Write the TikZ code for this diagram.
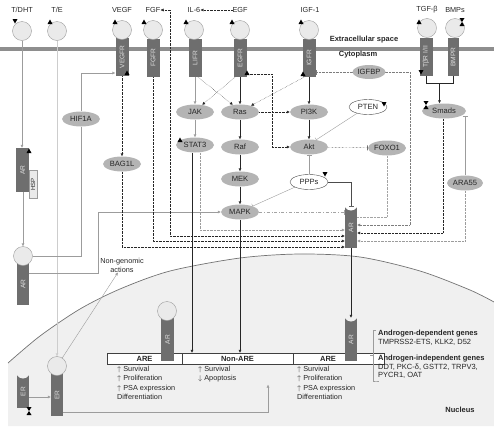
\documentclass[tikz,border=0pt]{standalone}
\usepackage{fontspec}
\setmainfont{Liberation Sans}
\usetikzlibrary{arrows.meta,positioning,calc,shapes.geometric,backgrounds}
\definecolor{rcGray}{HTML}{6E6E6E}
\definecolor{prGray}{HTML}{B4B4B4}
\definecolor{lgFill}{HTML}{EAEAEA}
\definecolor{mbGray}{HTML}{8E8E8E}
\definecolor{nuFill}{HTML}{F0F0F0}
\definecolor{lnGray}{HTML}{9C9C9C}
\definecolor{ltGray}{HTML}{CDCDCD}
\newcommand{\arcup}[2]{\fill[#2] (#1.north west) .. controls ($(#1.north west)+(3,5)$) and ($(#1.north east)+(-3,5)$) .. (#1.north east) -- cycle;}
\tikzset{
  phup/.pic={\fill[black] (-2.5,2) -- (2.5,2) -- (0,-2.5) -- cycle;},
  phdn/.pic={\fill[black] (-2.5,-2) -- (2.5,-2) -- (0,2.5) -- cycle;},
  phbow/.pic={\fill[black] (-2.5,-4) -- (2.5,-4) -- (0,0) -- cycle (-2.5,4) -- (2.5,4) -- (0,0) -- cycle;},
}

\begin{document}
\begin{tikzpicture}[
    x=1pt, y=-1pt,
    font=\fontsize{7.3}{8.6}\selectfont,
    text=black!85,
    >={Latex[length=3pt,width=3pt]},
    lig/.style={circle, draw=lnGray, fill=lgFill, minimum size=19pt, inner sep=0pt},
    rcp/.style={rectangle, fill=rcGray, minimum width=13pt, minimum height=38pt,
                inner sep=0pt, text=white!88!black, font=\fontsize{6.6}{7}\selectfont},
    hsp/.style={rectangle, draw=lnGray, fill=lgFill, minimum width=8pt, minimum height=28pt,
                inner sep=0pt, font=\fontsize{6}{7}\selectfont},
    prot/.style={ellipse, fill=prGray, minimum width=38pt, minimum height=15pt, inner sep=0pt,
                 font=\fontsize{7.6}{8}\selectfont},
    wprot/.style={prot, fill=white, draw=black!70},
    box/.style={rectangle, draw=black!75, fill=white, minimum height=11pt, inner sep=0pt,
                font=\bfseries\fontsize{7.5}{8}\selectfont},
    lbl/.style={inner sep=0pt},
    act/.style={->, black!85},
    dact/.style={->, black!85, densely dotted},
    gact/.style={->, lnGray},
    glin/.style={lnGray},
    inh/.style={-{Bar[width=5pt]}},
  ]
  \useasboundingbox (0,0) rectangle (494,426);
  % ligand labels
  \node[lbl] (dhtl)  at (22,10)  {T/DHT};
  \node[lbl] (tel)   at (57,10)  {T/E};
  \node[lbl] (vegfl) at (122,10) {VEGF};
  \node[lbl] (fgfl)  at (153,10) {FGF};
  \node[lbl] (il6l)  at (194,10) {IL-6};
  \node[lbl] (egfl)  at (240,10) {EGF};
  \node[lbl] (igfl)  at (310,10) {IGF-1};
  \node[lbl] (tgfl)  at (427,10) {TGF-β};
  \node[lbl] (bmpl)  at (455,10) {BMPs};
  \node[lbl, font=\bfseries\fontsize{7.5}{8}\selectfont] (exl) at (364,40) {Extracellular space};
  \node[lbl, font=\bfseries\fontsize{7.5}{8}\selectfont] (cyl) at (358,55) {Cytoplasm};
  % receptors
  \node[rcp] (vegfr) at (122,57) {\rotatebox{90}{VEGFR}};
  \node[rcp] (fgfr)  at (153,58) {\rotatebox{90}{FGFR}};
  \node[rcp] (lifr)  at (195,58) {\rotatebox{90}{LIFR}};
  \node[rcp] (egfr)  at (240,58) {\rotatebox{90}{EGFR}};
  \node[rcp] (igfr)  at (309,58) {\rotatebox{90}{IGFR}};
  \node[rcp] (tbr)   at (426,57) {\rotatebox{90}{TβR I/II}};
  \node[rcp, minimum width=11pt] (bmpr) at (453,57) {\rotatebox{90}{BMPR}};
  % ligands
  \node[lig] (dht)  at (22,31)  {};
  \node[lig] (te)   at (57,31)  {};
  \node[lig] (vegf) at (122,30) {};
  \node[lig] (fgf)  at (153,30) {};
  \node[lig] (il6)  at (194,30) {};
  \node[lig] (egf)  at (240,30) {};
  \node[lig] (igf)  at (309,30) {};
  \node[lig] (tgf)  at (427,28) {};
  \node[lig] (bmp)  at (455,28) {};
  % cytoplasm proteins
  \node[prot] (hif)  at (81,119)  {HIF1A};
  \node[prot] (bag)  at (122,164) {BAG1L};
  \node[prot] (jak)  at (195,112) {JAK};
  \node[prot] (ras)  at (240,112) {Ras};
  \node[prot] (pi3k) at (309,112) {PI3K};
  \node[prot] (stat) at (195,145) {STAT3};
  \node[prot] (raf)  at (240,147) {Raf};
  \node[prot] (akt)  at (309,147) {Akt};
  \node[prot] (mek)  at (240,179) {MEK};
  \node[prot] (mapk) at (240,212) {MAPK};
  \node[wprot] (ppp) at (309,182) {PPPs};
  \node[prot, minimum width=33pt, minimum height=14pt] (igfbp) at (369,72) {IGFBP};
  \node[wprot] (pten) at (368,107) {PTEN};
  \node[prot, minimum width=44pt] (smads) at (444,111) {Smads};
  \node[prot] (foxo) at (387,148) {FOXO1};
  \node[prot, minimum width=36pt] (ara) at (465,183) {ARA55};
  % androgen receptors
  \node[rcp, minimum height=44pt] (arh) at (22.5,170) {\rotatebox{90}{AR}};
  \node[hsp] (hsp) at (33,184.5) {\rotatebox{90}{HSP}};
  \node[rcp, minimum width=12pt, minimum height=42pt] (arl) at (23,284) {\rotatebox{90}{AR}};
  \node[lig] (arlc) at (23,256) {};
  \node[rcp, minimum width=12pt, minimum height=41pt] (arc) at (351,227.5) {\rotatebox{90}{AR}};
  \arcup{arc}{white}
  % nucleus box
  \node[box, minimum width=75pt]  (areL)   at (144.5,358.5) {ARE};
  \node[box, minimum width=111pt] (nonare) at (237.5,358.5) {Non-ARE};
  \node[box, minimum width=91pt]  (areR)   at (338.5,358.5) {};
  \node[lbl, font=\bfseries\fontsize{7.5}{8}\selectfont] (areRl) at (328,358.5) {ARE};
  \node[rcp, minimum height=43pt] (arnl) at (167.5,339.5) {\rotatebox{90}{AR}};
  \node[lig] (arnlc) at (167,311) {};
  \node[rcp, minimum width=12pt, minimum height=43pt] (arnr) at (351,339.5) {\rotatebox{90}{AR}};
  \arcup{arnr}{nuFill}
  \node[rcp, minimum width=12pt, minimum height=42pt] (ern) at (57,395) {\rotatebox{90}{ER}};
  \node[lig] (ernc) at (57,366) {};
  \node[rcp, minimum width=12pt, minimum height=33pt] (erl) at (23,391.5) {\rotatebox{90}{ER}};
  \arcup{erl}{nuFill}
  % texts
  \node[lbl, align=center, font=\fontsize{7.3}{9}\selectfont] (ngl) at (122,265) {Non-genomic\\actions};
  \node[lbl, anchor=north west, align=left, font=\fontsize{7.3}{9.4}\selectfont] (effL) at (117,366)
       {$\uparrow$ Survival\\$\uparrow$ Proliferation\\$\uparrow$ PSA expression\\Differentiation};
  \node[lbl, anchor=north west, align=left, font=\fontsize{7.3}{9.4}\selectfont] (effM) at (198,366)
       {$\uparrow$ Survival\\$\downarrow$ Apoptosis};
  \node[lbl, anchor=north west, align=left, font=\fontsize{7.3}{9.4}\selectfont] (effR) at (297,366)
       {$\uparrow$ Survival\\$\uparrow$ Proliferation\\$\uparrow$ PSA expression\\Differentiation};
  \node[lbl, anchor=north west, align=left, font=\fontsize{7.5}{8.8}\selectfont] (gen) at (378,330)
       {\textbf{Androgen-dependent genes}\\TMPRSS2-ETS, KLK2, D52\\[7pt]
        \textbf{Androgen-independent genes}\\DDT, PKC-δ, GSTT2, TRPV3,\\PYCR1, OAT};
  \node[lbl, font=\bfseries\fontsize{7.5}{8}\selectfont] (nucl) at (460,410) {Nucleus};
  % phosphorylation marks
  \pic at (15,21) {phdn};
  \pic at (50,22) {phup};
  \pic at (115,22) {phup};
  \pic at (144,22) {phup};
  \pic at (186,22) {phup};
  \pic at (232,22) {phup};
  \pic at (301,22) {phup};
  \pic at (419,22) {phup};
  \pic at (462,22) {phbow};
  \pic at (127,73) {phup};
  \pic at (247,73) {phup};
  \pic at (303,74) {phup};
  \pic at (421,72) {phdn};
  \pic at (426,105) {phbow};
  \pic at (384,104) {phdn};
  \pic at (325,174) {phdn};
  \pic at (180,140) {phup};
  \pic at (29,151) {phup};
  \pic at (29,411) {phbow};
  % gene bracket
  \draw[lnGray] ([xshift=-2pt]gen.north west) -- ++(-3,0) |- ([xshift=-2pt,yshift=-2pt]gen.south west) -- ++(3,0);
  \draw[lnGray] ($([xshift=-5pt]gen.north west)!0.5!([xshift=-5pt,yshift=-2pt]gen.south west)$) -- ++(-3,0);

  \begin{scope}[on background layer]
    % membrane and nucleus
    \draw[mbGray, line width=4pt] (0,49) -- (494,49);
    \fill[nuFill] plot[smooth] coordinates {(8,363) (40,336) (80,309) (120,289) (170,271) (240,258)
          (300,254) (360,257) (420,271) (470,290) (494,302)} -- (494,426) -- (8,426) -- cycle;
    \draw[black!55, line width=0.7pt] plot[smooth] coordinates {(8,363) (40,336) (80,309) (120,289)
          (170,271) (240,258) (300,254) (360,257) (420,271) (470,290) (494,302)};
    % left column
    \draw[gact] (dht) -- (dht |- arh.north);
    \draw[gact] (arh.south -| arlc) -- (arlc);
    \draw[->, ltGray] (te) -- (ernc);
    \draw[gact] (hif) |- (vegfr.west |- 0,73);
    \draw[glin] (hif) |- (arlc);
    \draw[gact] (arl.east |- 0,273) -- ++(69,0) |- (mapk);
    \draw[gact] (erl.east |- 0,397) -- (ern.west |- 0,397);
    \draw[gact] (ernc) -- ([xshift=-4pt]ngl.south);
    \draw[gact] (ern.east |- 0,412) -| ([yshift=-2pt]effM.south -| 268,0);
    % ligand cross talk
    \draw[dact] (egfl) -- (il6l);
    \draw[dact, <->] (fgfl) -- (fgfl -| 170,0) |- (arc.west |- 0,236);
    % receptor signalling
    \draw[gact] (lifr) -- (jak);
    \draw[dact] ([xshift=3pt]lifr.south) -- (ras.135);
    \draw[dact] ([xshift=-5pt]egfr.south) -- (jak.45);
    \draw[act] (egfr) -- (ras);
    \draw[dact] ([xshift=-5pt]igfr.south) -- (ras.30);
    \draw[act] (igfr) -- (pi3k);
    \draw[gact] (jak) -- (stat);
    \draw[act] (ras) -- (raf);
    \draw[act] (raf) -- (mek);
    \draw[act] (mek) -- (mapk);
    \draw[act] (pi3k) -- (akt);
    \draw[dact] (ras) -- (pi3k);
    \draw[dact] ([yshift=3pt]egfr.south east) -- ++(25,0) |- (akt);
    \draw[inh, black!85, densely dotted] (akt) -- (foxo);
    \draw[inh, glin] (pten.210) -- (akt.45);
    \draw[inh, glin] (ppp) -- (akt);
    \draw[inh, glin] (ppp.200) -- (mapk.25);
    \draw[inh, black!70] (ppp) -| (arc.north);
    \draw[inh, ltGray!80!black, dash dot] (mapk) -- (mapk -| arc.west);
    % inputs to cytoplasmic AR
    \draw[->, lnGray, densely dotted] ([xshift=5pt]stat.south) |- (arc.west |- 0,230);
    \draw[dact] (fgfr) |- (arc.west |- 0,241);
    \draw[dact] (vegfr) -- (bag);
    \draw[dact] (bag) |- (arc.west |- 0,247);
    \draw[ltGray!80!black, densely dotted] (foxo) |- (arc.east |- 0,217);
    \draw[lnGray!80!black, densely dotted, {Bar[width=5pt]}-{Latex[length=3pt,width=3pt]}]
         (igfr.east |- igfbp) -- (igfbp -| 410,0) |- (arc.east |- 0,225);
    \draw[dact] ([xshift=-1pt]smads.south) |- (arc.east |- 0,233);
    \draw[inh, glin] (ara) -- (ara |- smads.south east);
    \draw[->, lnGray, densely dotted] (ara) |- (arc.east |- 0,241);
    % TGF-beta / BMP
    \draw[black!85] (tbr.south) -- ++(0,7) -| (bmpr.south);
    \coordinate (bkt) at ($(tbr.south)!0.5!(bmpr.south)+(0,7)$);
    \draw[act] (bkt) -- (bkt |- smads.north);
    % to the nucleus
    \draw[act] ([xshift=-3pt]stat.south) -- ([xshift=-3pt]stat.south |- nonare.north);
    \draw[act] (mapk) -- (mapk |- nonare.north);
    \draw[act] (arc) -- (arnr);
  \end{scope}
\end{tikzpicture}
\end{document}
